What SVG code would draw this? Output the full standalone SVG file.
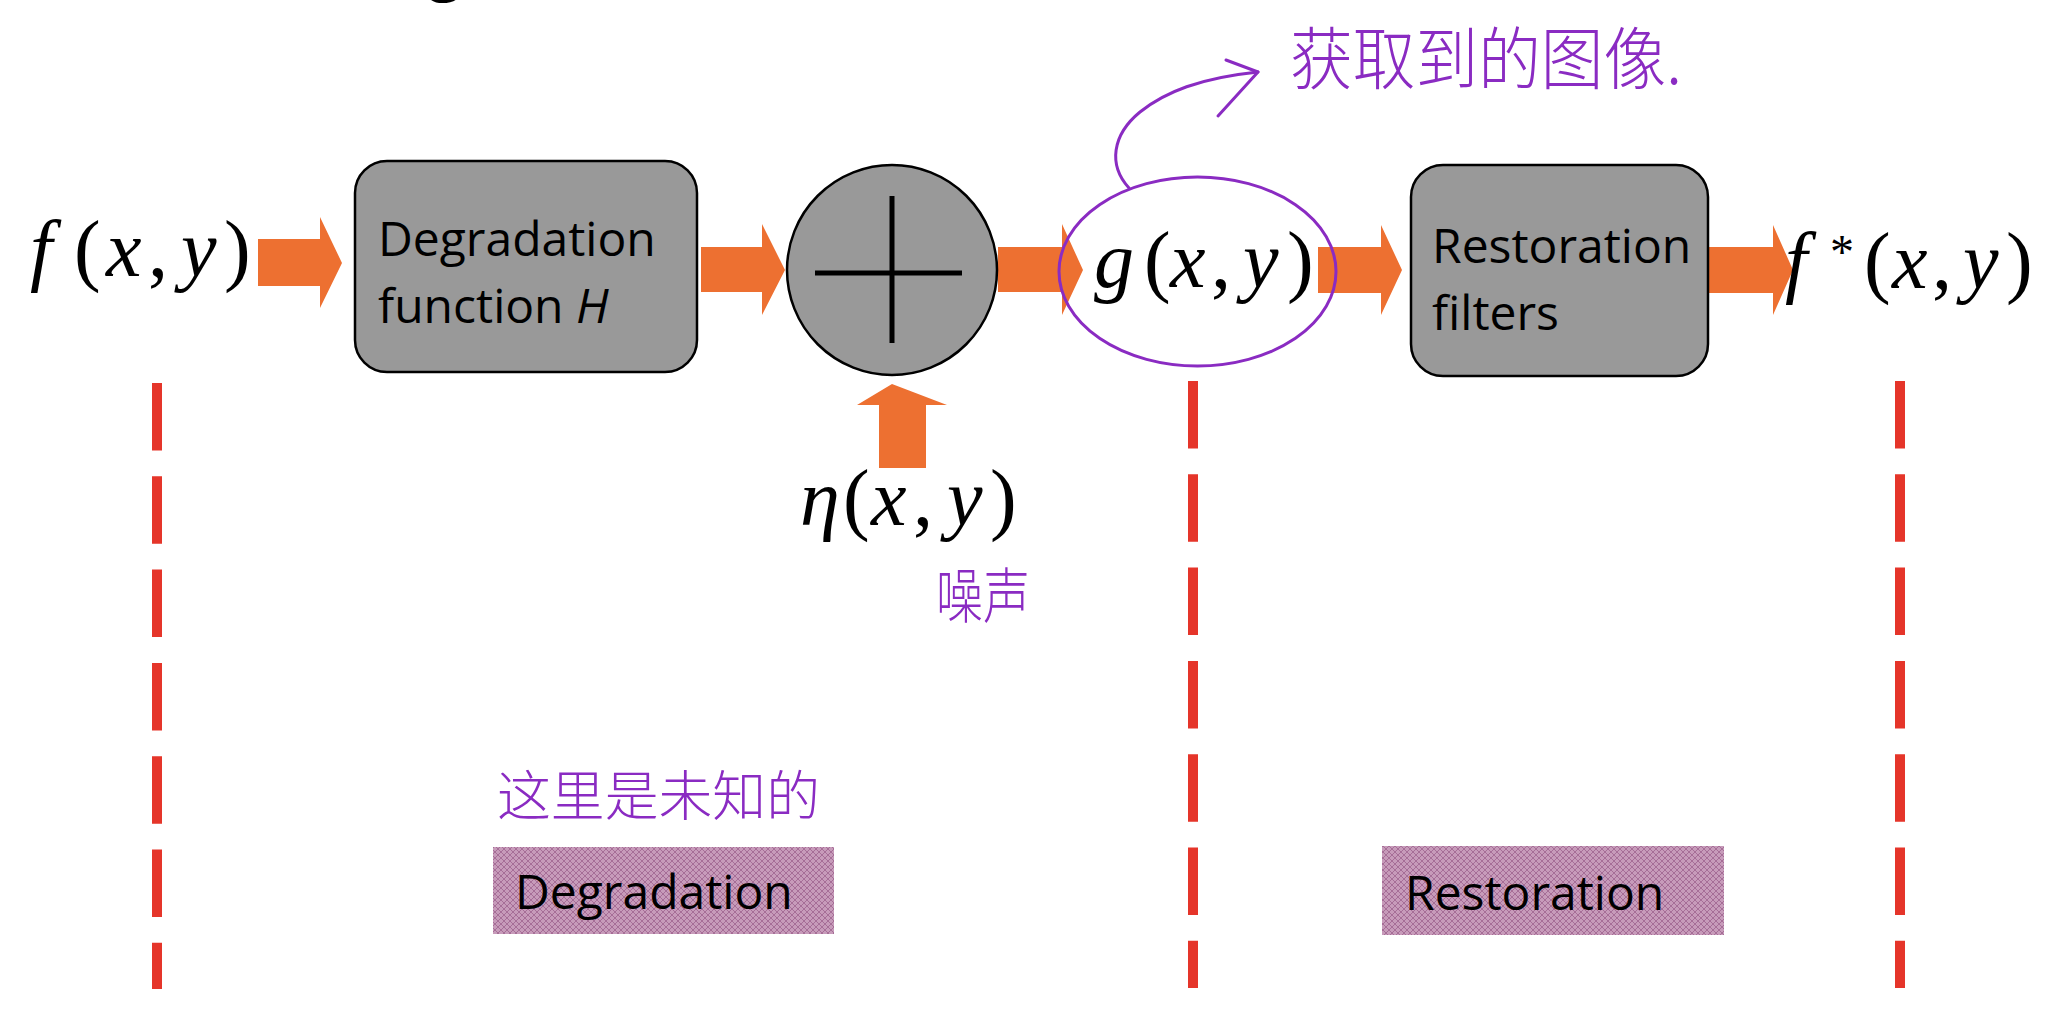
<svg xmlns="http://www.w3.org/2000/svg" width="2048" height="1014" viewBox="0 0 2048 1014">
  <defs>
    <style>
      .box { fill: #999999; stroke: #000000; stroke-width: 2.5; }
      .lbl { font-family: "Open Sans", "Liberation Sans", sans-serif; font-size: 48px; fill: #000000; }
      .math { font-family: "Liberation Serif", "Times New Roman", serif; font-size: 80px; fill: #000000; }
      .it { font-style: italic; }
      .arrow { fill: #ED7031; }
      .dash { stroke: #E5352A; stroke-width: 10; stroke-dasharray: 67.5 25.8; fill: none; }
      .ink { fill: none; stroke: #8A2BC2; stroke-width: 3; stroke-linecap: round; stroke-linejoin: round; }
      .hand { font-family: "Noto Sans CJK SC", "Noto Sans CJK JP", sans-serif; fill: #8A2BC2; font-weight: 300; }
    </style>
    <pattern id="mesh" width="6" height="6" patternUnits="userSpaceOnUse">
      <rect width="6" height="6" fill="#C79BBA"/>
      <path d="M0,3 L3,0 L6,3 L3,6 Z" fill="none" stroke="#A66E97" stroke-width="1"/>
    </pattern>
  </defs>

  <rect width="2048" height="1014" fill="#FFFFFF"/>

  <!-- fragment clipped by the top edge, as in the source -->
  <text x="428" y="-12" font-family="Open Sans, sans-serif" font-weight="bold" font-size="60" fill="#000">g</text>

  <g id="connectors">
    <polygon id="arrow1" class="arrow" points="258,239 320,239 320,217 342,263 320,308 320,286 258,286"/>
    <polygon id="arrow2" class="arrow" points="701,247 762,247 762,224 785,270 762,315 762,292 701,292"/>
    <polygon id="arrow3" class="arrow" points="998,247 1062,247 1062,224 1083,270 1062,315 1062,292 998,292"/>
    <polygon id="arrow4" class="arrow" points="1318,247 1381,247 1381,225 1402,270 1381,315 1381,293 1318,293"/>
    <polygon id="arrow5" class="arrow" points="1708,247 1773,247 1773,225 1793,270 1773,315 1773,293 1708,293"/>
    <polygon id="arrow-up" class="arrow" points="879,468 879,405 857,405 892,384 947,405 926,405 926,468"/>
    <line class="dash" x1="157" y1="383" x2="157" y2="989"/>
    <line class="dash" x1="1193" y1="381" x2="1193" y2="988"/>
    <line class="dash" x1="1900" y1="381" x2="1900" y2="988"/>
  </g>

  <g id="input-f">
    <text class="math" y="276"><tspan class="it" x="30">f</tspan><tspan x="74">(</tspan><tspan class="it" x="106">x</tspan><tspan x="148">,</tspan><tspan class="it" x="181">y</tspan><tspan x="224">)</tspan></text>
  </g>

  <g id="degradation-function">
    <rect class="box" x="355" y="161" width="342" height="211" rx="32" ry="32"/>
    <text class="lbl" x="378" y="256">Degradation</text>
    <text class="lbl" x="378" y="323">function <tspan font-style="italic">H</tspan></text>
  </g>

  <g id="adder">
    <circle cx="892" cy="270" r="105" fill="#999999" stroke="#000000" stroke-width="2.5"/>
    <line x1="815" y1="273" x2="962" y2="273" stroke="#000" stroke-width="5"/>
    <line x1="892" y1="196" x2="892" y2="343" stroke="#000" stroke-width="5"/>
  </g>

  <g id="noise">
    <text class="math" y="525"><tspan class="it" x="800">η</tspan><tspan x="843">(</tspan><tspan class="it" x="871">x</tspan><tspan x="913">,</tspan><tspan class="it" x="947">y</tspan><tspan x="990">)</tspan></text>
    <text class="hand" x="936" y="618" font-size="60" textLength="94" lengthAdjust="spacingAndGlyphs">噪声</text>
  </g>

  <g id="degraded-g">
    <text class="math" y="287"><tspan class="it" x="1094">g</tspan><tspan x="1144">(</tspan><tspan class="it" x="1170">x</tspan><tspan x="1211">,</tspan><tspan class="it" x="1243">y</tspan><tspan x="1287">)</tspan></text>
    <ellipse class="ink" cx="1197.5" cy="271.5" rx="138.5" ry="94.5"/>
    <path class="ink" d="M1129,188 C1108,165 1112,135 1140,112 C1165,92 1200,78 1258,72"/>
    <path class="ink" d="M1226,60 L1258,72 L1218,116"/>
    <text class="hand" x="1290" y="84" font-size="68" textLength="392" lengthAdjust="spacingAndGlyphs">获取到的图像.</text>
  </g>

  <g id="restoration-filters">
    <rect class="box" x="1411" y="165" width="297" height="211" rx="32" ry="32"/>
    <text class="lbl" x="1432" y="263">Restoration</text>
    <text class="lbl" x="1432" y="330">filters</text>
  </g>

  <g id="output-f">
    <text class="math" y="288"><tspan class="it" x="1785">f</tspan><tspan x="1830" y="268" font-size="48">*</tspan><tspan x="1864" y="288">(</tspan><tspan class="it" x="1892">x</tspan><tspan x="1932">,</tspan><tspan class="it" x="1963">y</tspan><tspan x="2006">)</tspan></text>
  </g>

  <g id="degradation-label">
    <text class="hand" x="497" y="816" font-size="54" textLength="323" lengthAdjust="spacingAndGlyphs">这里是未知的</text>
    <rect x="493" y="847" width="341" height="87" fill="url(#mesh)"/>
    <text class="lbl" x="515" y="909">Degradation</text>
  </g>

  <g id="restoration-label">
    <rect x="1382" y="846" width="342" height="89" fill="url(#mesh)"/>
    <text class="lbl" x="1405" y="910">Restoration</text>
  </g>
</svg>
